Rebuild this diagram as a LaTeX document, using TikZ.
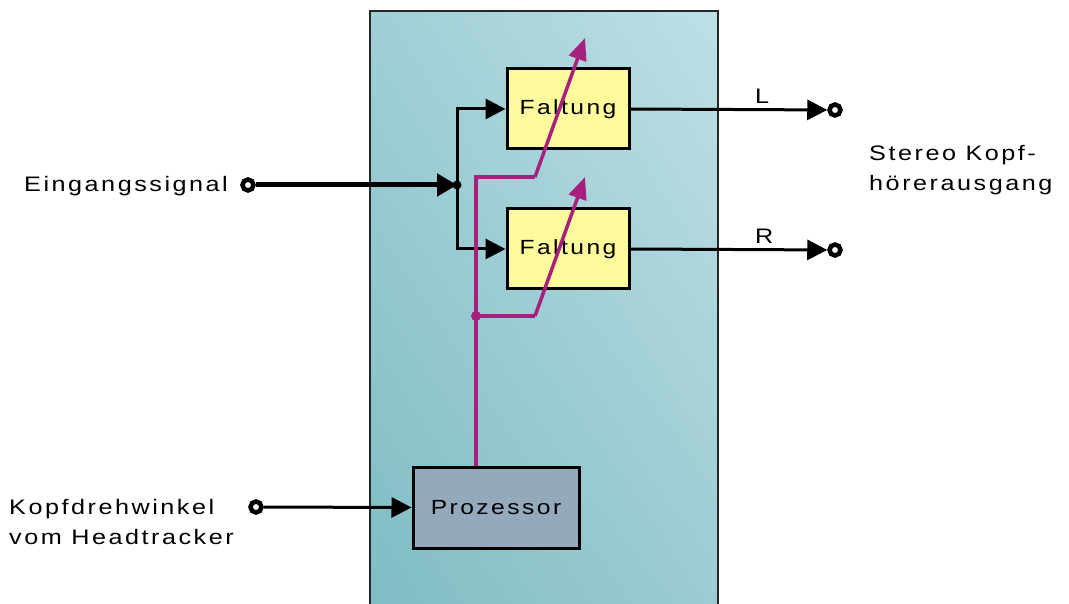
\documentclass[tikz,border=0pt]{standalone}
\usepackage{fontspec}
\setmainfont{Liberation Sans}[LetterSpace=12,FakeStretch=1.2]
\usetikzlibrary{arrows.meta,shadings}
\definecolor{bgll}{HTML}{7FBCC4}
\definecolor{bglr}{HTML}{9CCBD1}
\definecolor{bgul}{HTML}{9FCFD5}
\definecolor{bgur}{HTML}{BDE0E5}
\definecolor{faltfill}{HTML}{FDFB9C}
\definecolor{profill}{HTML}{94A9BC}
\definecolor{mag}{HTML}{A8207E}
\tikzset{
  lbl/.style={font=\fontsize{21}{30}\selectfont, inner sep=0pt},
  faltbox/.style={draw=black, line width=3pt, fill=faltfill, minimum width=122pt, minimum height=80pt, inner sep=0pt, font=\fontsize{20.5}{24}\selectfont},
  probox/.style={draw=black, line width=3pt, fill=profill, minimum width=166pt, minimum height=81pt, inner sep=0pt, font=\fontsize{20.5}{24}\selectfont},
  term/.style={circle, draw=black, fill=white, line width=4.5pt, minimum size=11pt, inner sep=0pt},
  sig/.style={draw=black, line width=3pt, -{Triangle[length=20pt,width=20pt]}},
  bigsig/.style={draw=black, line width=5pt, -{Triangle[length=20pt,width=22pt]}},
  wire/.style={draw=black, line width=3pt},
  magwire/.style={draw=mag, line width=3.5pt, line join=miter},
  magarrow/.style={draw=mag, line width=3.5pt, -{Triangle[length=22pt,width=18pt]}},
}
\begin{document}
\begin{tikzpicture}[x=1pt,y=-1pt]
\useasboundingbox (0,0) rectangle (1069,604);
\clip (0,0) rectangle (1069,604);
% big box
\shade[upper left=bgul, upper right=bgur, lower left=bgll, lower right=bglr] (370,11) rectangle (718,615);
\draw[line width=1.6pt, black!85] (370,615) -- (370,11) -- (718,11) -- (718,615);
% blocks
\node[faltbox] (f1) at (568,109) {Faltung};
\node[faltbox] (f2) at (568,249) {Faltung};
\node[probox] (pz) at (496,507.5) {Prozessor};
% terminals
\node[term] (tin) at (248,185) {};
\node[term] (tL) at (835,110) {};
\node[term] (tR) at (835,250) {};
\node[term] (tk) at (256,507) {};
% labels
\node[lbl, anchor=base west] (lin) at (24,192) {Eingangssignal};
\node[lbl, anchor=base west] (lL) at (755,104) {L};
\node[lbl, anchor=base west] (lR) at (755,244) {R};
\node[lbl, anchor=north west, align=left] (lst) at (869,145) {Stereo Kopf-\\hörerausgang};
\node[lbl, anchor=north west, align=left] (lkd) at (9,499) {Kopfdrehwinkel\\vom Headtracker};
% junction
\coordinate (j1) at (457,185);
\path[bigsig] (tin) -- (j1);
\draw[wire] (457,110) -- (457,250);
\path[sig] (j1) |- (f1.west);
\path[sig] (j1) |- (f2.west);
\fill[black] (j1) circle (4.5pt);
% outputs
\path[sig] (f1.east) -- (tL);
\path[sig] (f2.east) -- (tR);
\path[sig] (tk) -- (pz.west);
% magenta control
\coordinate (m1) at (476,316);
\coordinate (m2) at (476,177);
\coordinate (k1) at (535,177);
\coordinate (k2) at (535,316);
\coordinate (a1) at (585,38);
\coordinate (a2) at (585,177);
\draw[magwire] (pz.north -| m1) -- (m2) -- (k1);
\draw[magarrow] (k1) -- (a1);
\draw[magwire] (m1) -- (k2);
\draw[magarrow] (k2) -- (a2);
\fill[mag] (m1) circle (5pt);
\end{tikzpicture}
\end{document}
